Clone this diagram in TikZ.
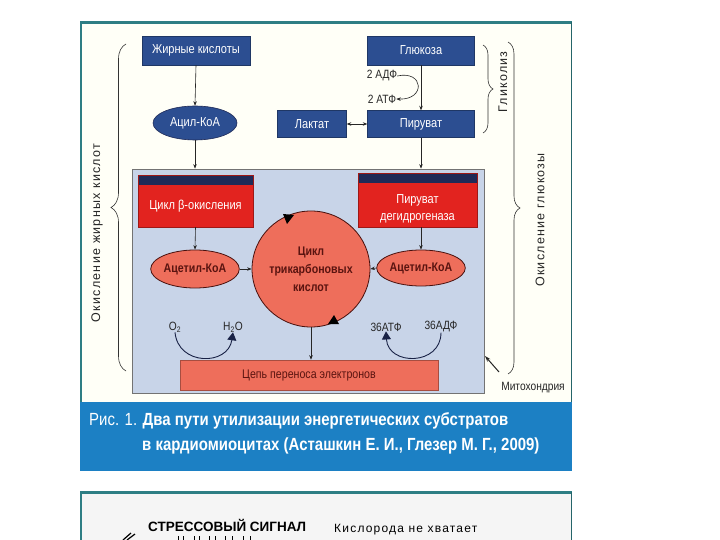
\documentclass[tikz,border=0pt]{standalone}
\usepackage{fontspec}
\setmainfont{Liberation Sans}
\newfontfamily\cond[FakeStretch=0.85]{Liberation Sans}
\newfontfamily\spaced[LetterSpace=10]{Liberation Sans}
\usetikzlibrary{shapes.geometric,arrows.meta,decorations.pathreplacing}
\definecolor{teal1}{HTML}{2E7E84}
\definecolor{dblue}{HTML}{2C4E91}
\definecolor{navy}{HTML}{1F2A57}
\definecolor{rred}{HTML}{E2231F}
\definecolor{salmon}{HTML}{EE6E5B}
\definecolor{mito}{HTML}{C8D4E8}
\definecolor{capblue}{HTML}{1C80C4}
\definecolor{maroon}{HTML}{5A1410}
\tikzset{
  bbox/.style={rectangle, fill=dblue, draw=dblue!70!black, line width=0.4pt, text=white, inner sep=0pt, font=\cond\fontsize{13}{15}\selectfont},
  bell/.style={ellipse, fill=dblue, draw=navy, line width=0.6pt, text=white, inner sep=0pt, font=\cond\fontsize{13}{15}\selectfont},
  rbox/.style={rectangle, fill=rred, draw=rred!70!black, line width=0.4pt, inner sep=0pt,
     path picture={\fill[navy] (path picture bounding box.north west) rectangle ([yshift=-10pt]path picture bounding box.north east);}},
  rtext/.style={text=white, align=center, inner sep=0pt, font=\cond\fontsize{13}{17}\selectfont},
  sell/.style={ellipse, fill=salmon, draw=maroon!80!black, line width=0.8pt, inner sep=0pt, text=maroon, font=\cond\bfseries\fontsize{12.5}{15}\selectfont, align=center},
  lbl/.style={inner sep=0pt, text=black!85, font=\cond\fontsize{12}{14}\selectfont},
  side/.style={inner sep=0pt, text=black!85, font=\spaced\fontsize{12.5}{14}\selectfont},
  arr/.style={-{Stealth[length=4.5pt,width=3.5pt]}, line width=0.6pt, draw=black!85},
  tri/.style={-{Triangle[length=8pt,width=9pt]}, line width=0.9pt, draw=navy!80!black},
  brc/.style={decorate, line width=0.6pt, draw=black!80},
  captxt/.style={inner sep=0pt, text=white, anchor=west, font=\cond\fontsize{17.6}{20}\selectfont}
}
\begin{document}
\begin{tikzpicture}[x=1pt,y=-1pt]
\useasboundingbox (0,0) rectangle (720,540);
\fill[white] (0,0) rectangle (720,540);
% frame of figure 1
\fill[white!97!yellow] (81,23) rectangle (571,402);
\draw[teal1, line width=3pt] (80,22.5) -- (572,22.5);
\draw[teal1, line width=1.5pt] (81,22) -- (81,402);
\draw[teal1!80!black, line width=1pt] (571,22) -- (571,402);

% mitochondria box
\node[rectangle, fill=mito, draw=black!55, line width=0.7pt, minimum width=352pt, minimum height=224pt, inner sep=0pt] (mito) at (308,281) {};

% top part
\node[bbox, minimum width=108pt, minimum height=29pt] (fa) at (196,50.5) {Жирные кислоты};
\node[bell, minimum width=84pt, minimum height=34pt] (acyl) at (195,123) {Ацил-КоА};
\node[bbox, minimum width=107pt, minimum height=29pt] (glu) at (421,50.5) {Глюкоза};
\node[bbox, minimum width=107pt, minimum height=27pt] (pyr) at (421,124) {Пируват};
\node[bbox, minimum width=69pt, minimum height=27pt] (lac) at (312,124) {Лактат};
\node[lbl] (adp) at (382,76) {2 АДФ};
\node[lbl] (atp) at (382,99) {2 АТФ};

\draw[arr] (fa.south) -- (acyl.north);
\draw[arr] (acyl.south) -- (acyl.south |- mito.north);
\draw[arr] (glu.south) -- (pyr.north);
\draw[arr] (pyr.south) -- (pyr.south |- mito.north);
\draw[{Stealth[length=4.5pt,width=3.5pt]}-{Stealth[length=4.5pt,width=3.5pt]}, line width=0.6pt, draw=black!85] (lac.east) -- (pyr.west);
\draw[arr] (adp.east) .. controls (424,70) and (426,100) .. (atp.east);

% inside mitochondria
\node[rbox, minimum width=115pt, minimum height=52pt] (beta) at (195.5,201) {};
\node[rtext] (betat) at (195.5,206) {Цикл β-окисления};
\node[rbox, minimum width=119pt, minimum height=54pt] (pdh) at (417.5,200) {};
\node[rtext] (pdht) at (417.5,209) {Пируват\\дегидрогеназа};
\node[sell, minimum width=84pt, minimum height=38pt] (acl) at (195,269) {Ацетил-КоА};
\node[sell, minimum width=84pt, minimum height=36pt] (acr) at (421,268) {Ацетил-КоА};
\node[sell, minimum width=100pt, minimum height=116pt, font=\cond\bfseries\fontsize{12.5}{18}\selectfont] (tca) at (311,269) {Цикл\\трикарбоновых\\кислот};
\node[rectangle, fill=salmon, draw=salmon!70!black, line width=0.5pt, minimum width=258pt, minimum height=30pt, inner sep=0pt, text=maroon, font=\cond\fontsize{12.5}{15}\selectfont] (chain) at (309,375) {Цепь переноса электронов};

\draw[arr] (beta.south) -- (acl.north);
\draw[arr] (pdh.south -| acr.north) -- (acr.north);
\draw[arr] (acl.east) -- (tca.west);
\draw[arr] (acr.west) -- (tca.east);
\draw[arr] (tca.south) -- (tca.south |- chain.north);

% cycle direction marks
\fill[black] (283,214) -- (294,215) -- (287,224) -- cycle;
\fill[black] (328,324) -- (339,324) -- (334,315) -- cycle;

% O2 / H2O, ATP / ADP
\node[lbl] (o2) at (175,327) {O\textsubscript{2}};
\node[lbl] (h2o) at (233,327) {H\textsubscript{2}O};
\node[lbl] (atp36) at (386,327) {36АТФ};
\node[lbl] (adp36) at (441,327) {36АДФ};
\draw[tri] (o2.south) .. controls (178,366) and (228,366) .. (h2o.south);
\draw[tri] (adp36.south) .. controls (441,366) and (388,366) .. (atp36.south);

% mitochondria label
\node[lbl] (mitol) at (533,388) {Митохондрия};
\coordinate (mitos) at (499,372);
\coordinate (mitoe) at (485,356);
\draw[-{Stealth[length=6pt,width=4pt]}, line width=1pt, draw=black!85] (mitos) -- (mitoe);

% braces
\draw[brc, decoration={brace, amplitude=15pt}] (126,371) -- (126,44);
\draw[brc, decoration={brace, amplitude=12pt}] (508,42) -- (508,374);
\draw[brc, decoration={brace, amplitude=10pt}] (483,45) -- (483,133);
\node[side, rotate=90] (lside) at (97,233) {Окисление жирных кислот};
\node[side, rotate=90] (rside) at (540,220) {Окисление глюкозы};
\node[side, rotate=90] (glyc) at (503,82) {Гликолиз};

% caption band
\fill[capblue] (80,402) rectangle (572,471);
\node[captxt] (cap1) at (89,421) {Рис. 1. \bfseries Два пути утилизации энергетических субстратов};
\node[captxt, font=\cond\bfseries\fontsize{17.6}{20}\selectfont] (cap2) at (142,446) {в кардиомиоцитах (Асташкин Е. И., Глезер М. Г., 2009)};

% second figure (cut)
\fill[black!4] (81,493) rectangle (571,540);
\draw[teal1, line width=3pt] (80,492.5) -- (572,492.5);
\draw[teal1, line width=1.5pt] (81,492) -- (81,540);
\draw[teal1!80!black, line width=1pt] (571,492) -- (571,540);
\node[inner sep=0pt, anchor=west, font=\bfseries\fontsize{13.5}{15}\selectfont] (stress) at (148,525) {СТРЕССОВЫЙ СИГНАЛ};
\node[inner sep=0pt, anchor=west, font=\spaced\fontsize{12}{14}\selectfont] (oxy) at (334,530) {Кислорода не хватает};
\draw[line width=1.2pt] (123,540) -- (131,533) (127,540) -- (135,534);
\foreach \xx in {178,183,194,199,209,215,225,232,243,250} { \draw[line width=1pt] (\xx,536) -- (\xx,540); }
\end{tikzpicture}
\end{document}
